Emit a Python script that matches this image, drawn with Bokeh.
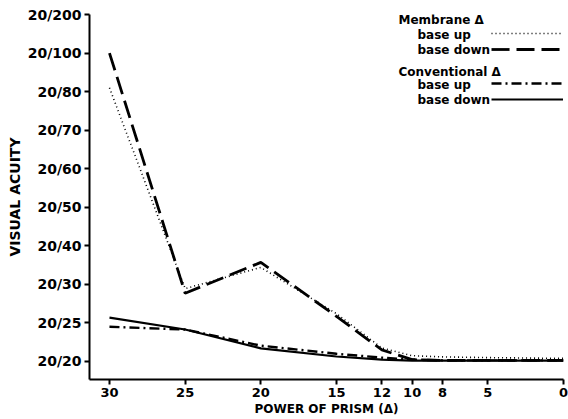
from bokeh.plotting import figure
from bokeh.models import Range1d, FixedTicker, Legend, LegendItem, Label
from bokeh.embed import file_html
from bokeh.resources import INLINE

# Acuity scale (equally spaced categories on the y axis)
acuity_labels = ["20/20", "20/25", "20/30", "20/40", "20/50",
                 "20/60", "20/70", "20/80", "20/100", "20/200"]
# Power of prism (Δ)
prism = [30, 25, 20, 15, 12, 10, 8, 5, 0]
# Values in acuity-scale steps (0 = 20/20, 1 = 20/25, ... 9 = 20/200)
membrane_up = [7.1, 1.89, 2.44, 1.24, 0.35, 0.15, 0.12, 0.10, 0.08]
membrane_down = [8.0, 1.77, 2.57, 1.17, 0.30, 0.05, 0.03, 0.03, 0.03]
conventional_up = [0.90, 0.83, 0.41, 0.20, 0.10, 0.05, 0.03, 0.03, 0.03]
conventional_down = [1.14, 0.83, 0.34, 0.13, 0.05, 0.02, 0.02, 0.02, 0.02]

FONT = "DejaVu Sans"
W, H = 568, 419
TOP, BOTTOM, LEFT, RIGHT = 14, 40, 89, 5
FH = H - TOP - BOTTOM

p = figure(width=W, height=H, output_backend="svg", toolbar_location=None,
           x_range=Range1d(31.32, 0), y_range=Range1d(-0.467, 9),
           min_border_left=LEFT, min_border_right=RIGHT,
           min_border_top=TOP, min_border_bottom=BOTTOM)
p.outline_line_color = None
p.grid.visible = False
p.background_fill_color = "white"
p.border_fill_color = "white"

for ax in (p.xaxis[0], p.yaxis[0]):
    ax.axis_line_width = 2
    ax.axis_line_color = "black"
    ax.major_tick_line_width = 2
    ax.major_tick_out = 5
    ax.major_tick_in = 0
    ax.minor_tick_line_color = None
    ax.major_label_text_font = FONT
    ax.major_label_text_font_style = "bold"
    ax.major_label_text_color = "black"
    ax.axis_label_text_font = FONT
    ax.axis_label_text_font_style = "bold"
    ax.axis_label_text_color = "black"
    ax.major_label_standoff = 3
    ax.axis_label_standoff = 2

p.xaxis.major_label_text_font_size = "13px"
p.yaxis.major_label_text_font_size = "14px"
p.xaxis.axis_label_text_font_size = "12px"
p.yaxis.axis_label_text_font_size = "14px"

p.xaxis.ticker = FixedTicker(ticks=prism)
p.xaxis.axis_label = "POWER OF PRISM (Δ)"
p.yaxis.ticker = FixedTicker(ticks=list(range(len(acuity_labels))))
p.yaxis.major_label_overrides = {i: t for i, t in enumerate(acuity_labels)}
p.yaxis.axis_label = "VISUAL ACUITY"

r_mu = p.line(prism, membrane_up, line_color="black", line_width=1.6, line_dash="1 3")
r_md = p.line(prism, membrane_down, line_color="black", line_width=2.8, line_dash="18 7")
r_cu = p.line(prism, conventional_up, line_color="black", line_width=2.4, line_dash="10 4 2 4")
r_cd = p.line(prism, conventional_down, line_color="black", line_width=2.2)

def key(items, bottom):
    # legend tuple location = bottom-left corner, frame coordinates from bottom
    lg = Legend(items=[LegendItem(label=" ", renderers=[r]) for r in items],
                location=(402, FH - bottom), orientation="vertical",
                glyph_width=72, glyph_height=14, spacing=2, padding=0, margin=0,
                label_width=0, label_standoff=0, label_text_font_size="1px",
                background_fill_alpha=0, border_line_alpha=0)
    p.add_layout(lg, "center")

key([r_mu, r_md], 42)
key([r_cu, r_cd], 92)

def lab(text, x, ytop):
    p.add_layout(Label(x=x, y=FH - ytop, x_units="screen", y_units="screen", text=text,
                       text_font=FONT, text_font_style="bold", text_font_size="12px",
                       text_baseline="middle", text_color="black"))

lab("Membrane Δ", 309, 5)
lab("base up", 328, 20)
lab("base down", 328, 35)
lab("Conventional Δ", 309, 57)
lab("base up", 328, 70)
lab("base down", 328, 85)

open("out.html", "w").write(file_html(p, INLINE))
